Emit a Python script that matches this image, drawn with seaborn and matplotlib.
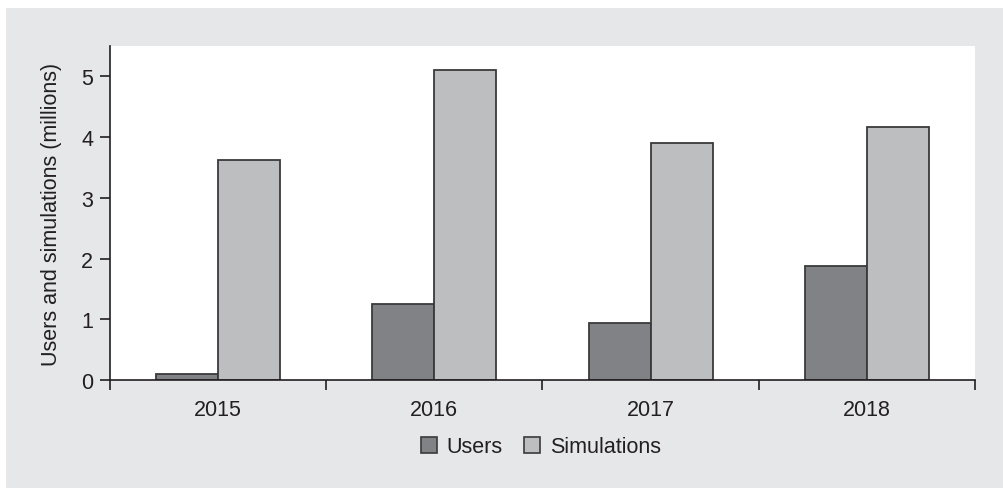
import pandas as pd
import numpy as np
import matplotlib.pyplot as plt
import matplotlib.patches as mpatches
import seaborn as sns

# Data
years = ["2015", "2016", "2017", "2018"]
users = [0.10, 1.25, 0.94, 1.88]
simulations = [3.62, 5.10, 3.90, 4.17]
series_names = ["Users", "Simulations"]
colors = ["#808285", "#bcbec0"]

df = pd.DataFrame({
    "Year": years * 2,
    "Value": users + simulations,
    "Series": [series_names[0]] * 4 + [series_names[1]] * 4,
})

sns.set_style("white")
plt.rcParams['font.family'] = ['Liberation Sans', 'DejaVu Sans']
text_color = "#231f20"
fs = 15.5

W, H = 1004, 489
fig = plt.figure(figsize=(W / 100, H / 100), dpi=100, facecolor="white")

# grey panel behind everything
bg = mpatches.Rectangle((6 / W, 0), 1 - 6 / W, 1 - 9 / H, transform=fig.transFigure,
                        facecolor="#e6e7e8", edgecolor="none", zorder=-10)
fig.patches.append(bg)

ax = fig.add_axes([110 / W, (H - 381) / H, 865 / W, 334 / H])
ax.set_facecolor("white")

sns.barplot(data=df, x="Year", y="Value", hue="Series", palette=colors,
            width=0.574, edgecolor="#3a3a3c", linewidth=1.3, ax=ax, legend=False,
            saturation=1)

ax.set_xlim(-0.5, 3.5)
ax.set_ylim(0, 5.5)
ax.set_yticks([0, 1, 2, 3, 4, 5])
ax.set_xticks(range(4))
ax.set_xticks(np.arange(-0.5, 4.0, 1.0), minor=True)
ax.tick_params(axis="x", which="major", length=0, pad=14, labelsize=fs, labelcolor=text_color)
ax.tick_params(axis="x", which="minor", length=7, width=1.2, color="#231f20", direction="out")
ax.tick_params(axis="y", length=7, width=1.2, color="#231f20", direction="out", pad=5,
               labelsize=fs, labelcolor=text_color)
ax.tick_params(left=True, bottom=True, which="both")

for s in ["top", "right"]:
    ax.spines[s].set_visible(False)
for s in ["left", "bottom"]:
    ax.spines[s].set_color("#231f20")
    ax.spines[s].set_linewidth(1.2)

ax.set_xlabel("")
ax.set_ylabel("Users and simulations (millions)", fontsize=fs, color=text_color, labelpad=14)

handles = [mpatches.Patch(facecolor=c, edgecolor="#3a3a3c", linewidth=1.2) for c in colors]
fig.legend(handles, series_names, loc="center", bbox_to_anchor=(541 / W, 1 - 448 / H),
           ncol=2, frameon=False, fontsize=fs, handlelength=0.75, handleheight=0.75,
           handletextpad=0.45, columnspacing=1.0, labelcolor=text_color)

fig.savefig("out.png", dpi=100, facecolor=fig.get_facecolor())
